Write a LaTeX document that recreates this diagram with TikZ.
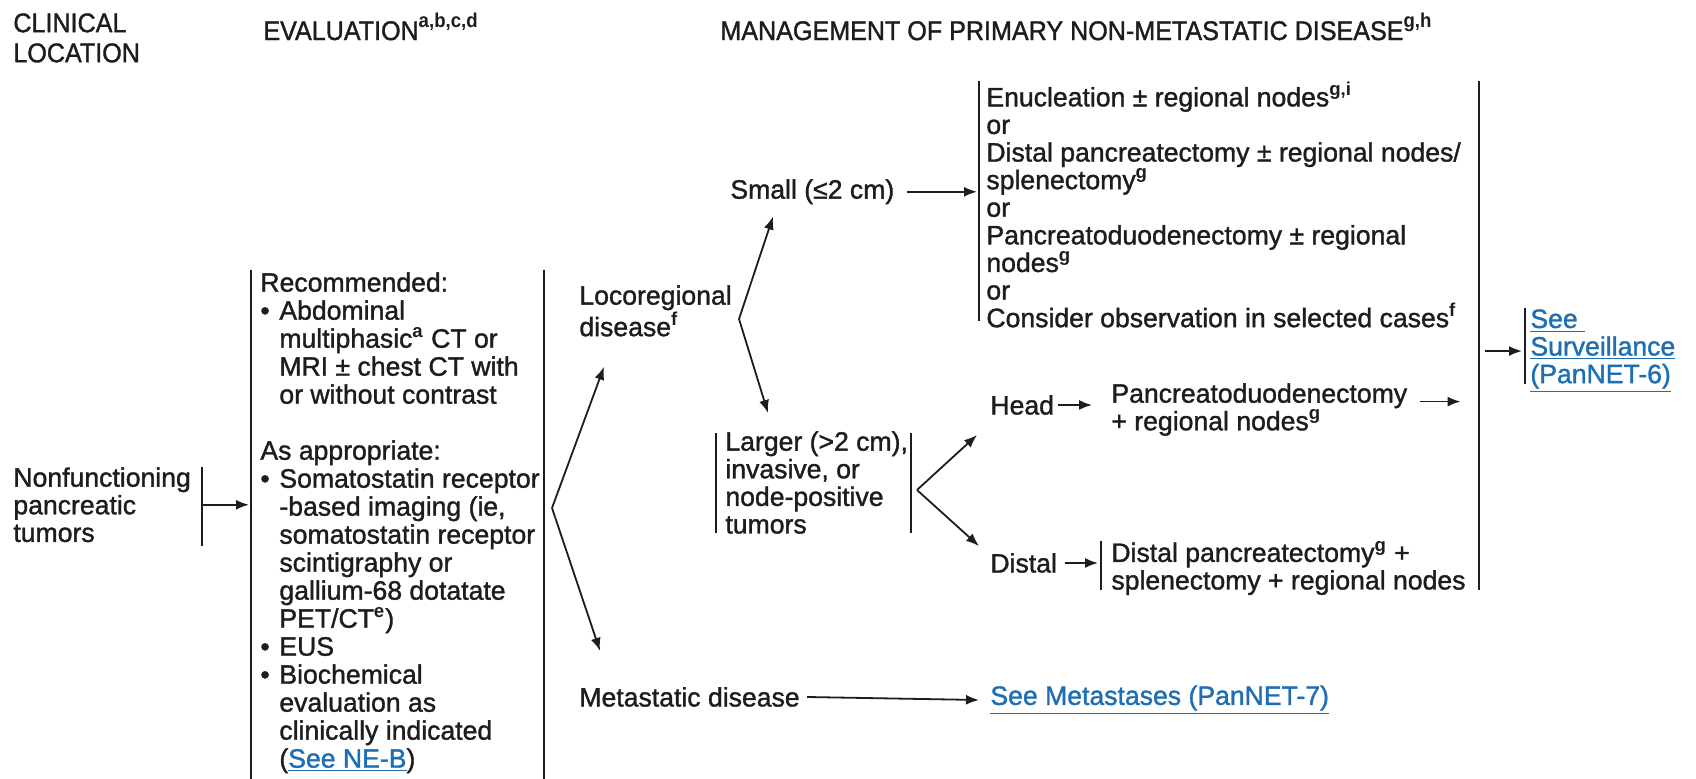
\documentclass[tikz,border=0pt]{standalone}
\usepackage{fontspec}
\setmainfont{Liberation Sans}[UprightFeatures={FakeBold=1.3}]
\newfontfamily\hdrfamily{Liberation Sans}[FakeStretch=0.93,UprightFeatures={FakeBold=1.3}]
\usepackage{xcolor}
\usetikzlibrary{positioning,arrows.meta}

\definecolor{inkgray}{RGB}{30,28,30}
\definecolor{linkblue}{RGB}{30,110,180}

\newcommand{\bodysize}{\fontsize{13.3pt}{13.8pt}\selectfont}
\newcommand{\evalsize}{\fontsize{13.3pt}{14pt}\selectfont}
\newcommand{\hdrsize}{\hdrfamily\fontsize{13.5pt}{15pt}\selectfont}
\newcommand{\lnk}[1]{\textcolor{linkblue}{\underline{#1}}}
\newcommand{\sups}[1]{\textsuperscript{\bfseries #1}}
\newcommand{\hsups}[1]{\raisebox{0.45em}{\fontsize{10pt}{10pt}\selectfont\bfseries #1}}
\newcommand{\bul}{\makebox[9.5pt][l]{\textbullet}}
\newcommand{\ind}{\hspace*{9.5pt}}

\begin{document}
\begin{tikzpicture}[
      x=0.5pt,y=-0.5pt,
      txt/.style={anchor=north west,align=left,inner sep=0pt,font=\bodysize,text=inkgray},
      lbl/.style={anchor=west,inner sep=0pt,font=\bodysize,text=inkgray},
      hdr/.style={anchor=north west,align=left,inner sep=0pt,font=\hdrsize,text=inkgray},
      bar/.style={draw=inkgray,line width=0.9pt},
      arrow/.style={-{Latex[length=6.5pt,width=5pt]},line width=0.9pt,draw=inkgray}]
    \useasboundingbox (0,0) rectangle (1696,779);
    % column heads
    \node[hdr] (clinhdr) at (13,13) {CLINICAL\\LOCATION};
    \node[hdr] (evalhdr) at (263,13) {EVALUATION\hsups{a,b,c,d}};
    \node[hdr] (mgmthdr) at (720,13) {MANAGEMENT OF PRIMARY NON-METASTATIC DISEASE\hsups{g,h}};
    % left columns
    \node[txt] (nonf) at (13,467) {Nonfunctioning\\pancreatic\\tumors};
    \node[txt,font=\evalsize] (eval) at (260,272) {Recommended:\\
      \bul Abdominal\\
      \ind multiphasic\sups{a} CT or\\
      \ind MRI ± chest CT with\\
      \ind or without contrast\\[14pt]
      As appropriate:\\
      \bul Somatostatin receptor\\
      \ind -based imaging (ie,\\
      \ind somatostatin receptor\\
      \ind scintigraphy or\\
      \ind gallium-68 dotatate\\
      \ind PET/CT\sups{e})\\
      \bul EUS\\
      \bul Biochemical\\
      \ind evaluation as\\
      \ind clinically indicated\\
      \ind (\lnk{See NE-B})};
    % management
    \node[txt] (loco) at (579,285) {Locoregional\\disease\sups{f}};
    \node[txt] (small) at (730,179) {Small (≤2 cm)};
    \node[txt] (opts) at (986,82) {Enucleation ± regional nodes\sups{g,i}\\
      or\\
      Distal pancreatectomy ± regional nodes/\\
      splenectomy\sups{g}\\
      or\\
      Pancreatoduodenectomy ± regional\\
      nodes\sups{g}\\
      or\\
      Consider observation in selected cases\sups{f}};
    \node[txt] (larger) at (725,431) {Larger (>2 cm),\\invasive, or\\node-positive\\tumors};
    \node[lbl] (head) at (990,405) {Head};
    \node[txt] (pd) at (1111,383) {Pancreatoduodenectomy\\+ regional nodes\sups{g}};
    \node[lbl] (distal) at (990,563) {Distal};
    \node[txt] (dp) at (1111,541) {Distal pancreatectomy\sups{g} +\\splenectomy + regional nodes};
    \node[txt] (surv) at (1530,309) {\lnk{See\ }\\\lnk{Surveillance}\\\lnk{(PanNET-6)}};
    \node[lbl] (meta) at (579,697) {Metastatic disease};
    \node[lbl] (metalink) at (990,700) {\lnk{See Metastases (PanNET-7)}};
    % bars
    \draw[bar] (202,467) -- (202,546);
    \draw[bar] (251,270) -- (251,779);
    \draw[bar] (544,270) -- (544,779);
    \draw[bar] (979,81) -- (979,321);
    \draw[bar] (716,433) -- (716,533);
    \draw[bar] (911,433) -- (911,533);
    \draw[bar] (1101,541) -- (1101,590);
    \draw[bar] (1479,81) -- (1479,590);
    \draw[bar] (1525,308) -- (1525,384);
    % fan points
    \coordinate (evfan) at (552,508);
    \coordinate (locofan) at (739,319);
    \coordinate (lgfan) at (917,490);
    % arrows
    \draw[arrow] ([xshift=5.5pt]nonf.east) -- ([xshift=-5.5pt]eval.west |- nonf.east);
    \draw[arrow] (evfan) -- ([shift={(25,30)}]loco.south west);
    \draw[arrow] (evfan) -- ([shift={(21,-36)}]meta.north west);
    \draw[arrow] (locofan) -- ([shift={(43,12)}]small.south west);
    \draw[arrow] (locofan) -- ([shift={(43,-18)}]larger.north west);
    \draw[arrow] ([xshift=6pt]small.east) -- ([xshift=-4.5pt]opts.west |- small.east);
    \draw[arrow] (lgfan) -- ([shift={(-13,30)}]head.west);
    \draw[arrow] (lgfan) -- ([shift={(-11,-17)}]distal.west);
    \draw[arrow] ([xshift=2pt]head.east) -- ([xshift=-9.5pt]pd.west |- head.east);
    \draw[arrow] ([xshift=4pt]distal.east) -- ([xshift=-6.5pt]dp.west |- distal.east);
    \draw[arrow] ([shift={(12,-8)}]pd.east) -- ++(41,0);
    \draw[arrow] ([xshift=-22.5pt]surv.west) -- ([xshift=-4pt]surv.west);
    \draw[arrow] ([xshift=3.5pt]meta.east) -- ([xshift=-5.5pt]metalink.west);
  \end{tikzpicture}
\end{document}
